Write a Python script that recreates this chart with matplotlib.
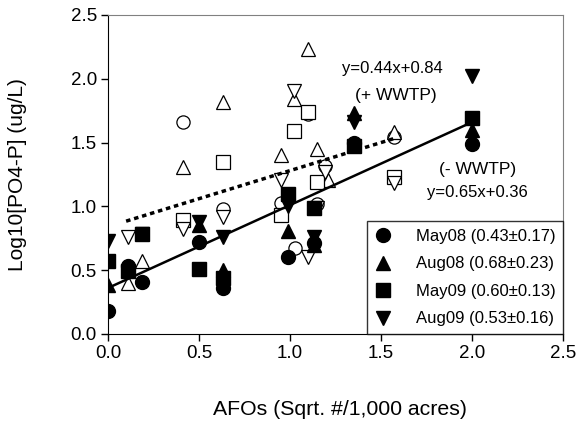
import numpy as np
import matplotlib
matplotlib.use("Agg")
import matplotlib.pyplot as plt

plt.rcParams['font.family'] = ['Liberation Sans', 'DejaVu Sans']

# Sites sans station d'epuration (- WWTP), symboles pleins
may08_x = [0.0, 0.11, 0.19, 0.50, 0.63, 0.99, 1.13, 1.35, 2.0]
may08_y = [0.18, 0.53, 0.41, 0.72, 0.36, 0.60, 0.71, 1.50, 1.49]
aug08_x = [0.0, 0.50, 0.63, 0.99, 1.13, 1.35, 2.0]
aug08_y = [0.38, 0.85, 0.50, 0.81, 0.70, 1.73, 1.60]
may09_x = [0.0, 0.11, 0.19, 0.50, 0.63, 0.99, 1.13, 1.35, 2.0]
may09_y = [0.57, 0.49, 0.78, 0.51, 0.44, 1.10, 0.99, 1.47, 1.69]
aug09_x = [0.0, 0.19, 0.50, 0.63, 0.99, 1.13, 1.35, 2.0]
aug09_y = [0.73, 0.78, 0.88, 0.76, 1.00, 0.76, 1.66, 2.02]

# Sites avec station d'epuration (+ WWTP), symboles vides
may08w_x = [0.41, 0.63, 0.95, 1.03, 1.10, 1.15, 1.19, 1.57]
may08w_y = [1.66, 0.98, 1.03, 0.67, 1.72, 1.02, 1.32, 1.54]
aug08w_x = [0.11, 0.19, 0.41, 0.63, 0.95, 1.02, 1.10, 1.15, 1.21, 1.57]
aug08w_y = [0.40, 0.57, 1.31, 1.82, 1.40, 1.84, 2.23, 1.45, 1.21, 1.58]
may09w_x = [0.41, 0.63, 0.95, 1.02, 1.10, 1.15, 1.57]
may09w_y = [0.89, 1.35, 0.93, 1.59, 1.74, 1.19, 1.23]
aug09w_x = [0.11, 0.41, 0.63, 0.95, 1.02, 1.10, 1.15, 1.19, 1.57]
aug09w_y = [0.76, 0.82, 0.92, 1.21, 1.90, 0.60, 0.99, 1.27, 1.18]

# Regressions (pente, ordonnee, x debut, x fin)
fit_minus = (0.65, 0.36, 0.0, 2.0)
fit_plus = (0.44, 0.84, 0.1, 1.57)

labels = ["May08 (0.43±0.17)", "Aug08 (0.68±0.23)",
          "May09 (0.60±0.13)", "Aug09 (0.53±0.16)"]
markers = ["o", "^", "s", "v"]
ticks = [0, 0.5, 1.0, 1.5, 2.0, 2.5]
tick_labels = ["0.0", "0.5", "1.0", "1.5", "2.0", "2.5"]

fig = plt.figure(figsize=(5.77, 4.26), dpi=100)
ax = fig.add_axes([0.187, 0.216, 0.789, 0.749])

open_sets = [(may08w_x, may08w_y), (aug08w_x, aug08w_y),
             (may09w_x, may09w_y), (aug09w_x, aug09w_y)]
for (xs, ys), m in zip(open_sets, markers):
    ax.plot(xs, ys, linestyle="none", marker=m, markersize=9.5,
            markerfacecolor="white", markeredgecolor="black", markeredgewidth=0.9)

slope, icpt, x0, x1 = fit_minus
xx = np.array([x0, x1])
ax.plot(xx, slope * xx + icpt, color="black", lw=1.8, zorder=3)
slope, icpt, x0, x1 = fit_plus
xx = np.array([x0, x1])
ax.plot(xx, slope * xx + icpt, color="black", lw=2.5, linestyle=(0, (1.3, 1.1)), zorder=3)

filled_sets = [(may08_x, may08_y), (aug08_x, aug08_y),
               (may09_x, may09_y), (aug09_x, aug09_y)]
for (xs, ys), m, lab in zip(filled_sets, markers, labels):
    ax.plot(xs, ys, linestyle="none", marker=m, markersize=10,
            color="black", label=lab, zorder=4)

ax.text(1.56, 2.08, "y=0.44x+0.84", ha="center", va="center", fontsize=12)
ax.text(1.58, 1.87, "(+ WWTP)", ha="center", va="center", fontsize=12.5)
ax.text(2.03, 1.29, "(- WWTP)", ha="center", va="center", fontsize=12.5)
ax.text(2.03, 1.11, "y=0.65x+0.36", ha="center", va="center", fontsize=12)

ax.set_xlim(0, 2.5)
ax.set_ylim(0, 2.5)
ax.set_xticks(ticks)
ax.set_yticks(ticks)
ax.set_xticklabels(tick_labels)
ax.set_yticklabels(tick_labels)
ax.tick_params(direction="out", length=5, width=1, labelsize=13.5, pad=3)
for s in ["top", "right"]:
    ax.spines[s].set_color("gray")

ax.set_xlabel("AFOs (Sqrt. #/1,000 acres)", fontsize=15.3)
ax.set_ylabel("Log10[PO4-P] (ug/L)", fontsize=15)
ax.xaxis.set_label_coords(0.51, -0.207)
ax.yaxis.set_label_coords(-0.178, 0.5)

leg = ax.legend(loc="lower right", bbox_to_anchor=(1.0, 0.0), borderaxespad=0,
                fontsize=12, frameon=True, fancybox=False, handletextpad=1.5,
                handlelength=1.0, labelspacing=0.75, borderpad=0.45)
leg.get_frame().set_edgecolor("black")
leg.get_frame().set_linewidth(1.0)

fig.savefig("out.png", dpi=100)
